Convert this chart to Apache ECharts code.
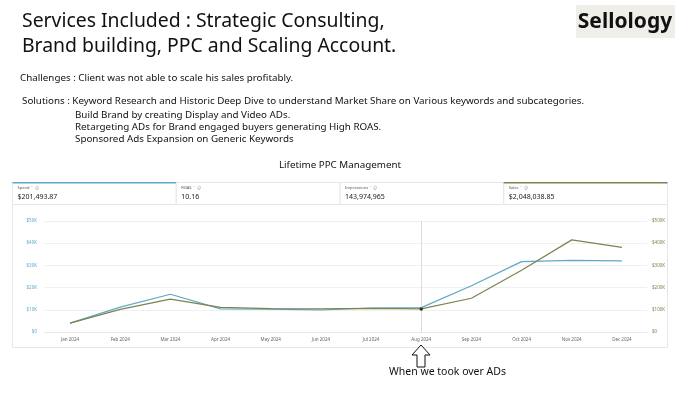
<!DOCTYPE html>
<html>
<head>
<meta charset="utf-8">
<script src="https://cdn.jsdelivr.net/npm/echarts@6/dist/echarts.min.js"></script>
<style>
  html, body { margin: 0; padding: 0; background: #fff; }
  #main { width: 680px; height: 398px; }
</style>
</head>
<body>
<div id="main"></div>
<script>
// months on the x axis
var months = ['Jan 2024', 'Feb 2024', 'Mar 2024', 'Apr 2024', 'May 2024', 'Jun 2024',
              'Jul 2024', 'Aug 2024', 'Sep 2024', 'Oct 2024', 'Nov 2024', 'Dec 2024'];
// spend per month ($, left axis)
var spend = [4000, 11200, 17000, 10400, 10300, 9900, 10800, 11000, 20800, 31700, 32300, 32000];
// sales per month ($, right axis)
var sales = [40000, 102000, 148000, 111000, 105000, 104000, 106000, 104000, 152000, 278000, 415000, 381000];
// summary cards above the chart
var cardNames = ['Spend', 'ROAS', 'Impressions', 'Sales'];
var cardValues = ['$201,493.87', '10.16', '143,974,965', '$2,048,038.85'];
var takeoverMonth = 'Aug 2024';

var blue = '#5fa8c6';
var olive = '#7b8350';
var font = 'Noto Sans';

window.addEventListener('load', function () {
    var chart = echarts.init(document.getElementById('main'));

    var graphics = [];
    // header text
    graphics.push({
        type: 'text', left: 22, top: 9,
        style: { text: 'Services Included : Strategic Consulting,\nBrand building, PPC and Scaling Account.',
                 font: '19.4px ' + font, fill: '#111', lineHeight: 25 }
    });
    graphics.push({
        type: 'text', left: 20, top: 73,
        style: { text: 'Challenges : Client was not able to scale his sales profitably.', font: '9.8px ' + font, fill: '#111' }
    });
    graphics.push({
        type: 'text', left: 22, top: 96,
        style: { text: 'Solutions : Keyword Research and Historic Deep Dive to understand Market Share on Various keywords and subcategories.',
                 font: '9.8px ' + font, fill: '#111' }
    });
    graphics.push({
        type: 'text', left: 75, top: 109,
        style: { text: 'Build Brand by creating Display and Video ADs.\nRetargeting ADs for Brand engaged buyers generating High ROAS.\nSponsored Ads Expansion on Generic Keywords',
                 font: '9.8px ' + font, fill: '#111', lineHeight: 12 }
    });
    // logo
    graphics.push({
        type: 'rect', shape: { x: 576, y: 5, width: 99, height: 33 },
        style: { fill: '#f0eee8' }
    });
    graphics.push({
        type: 'text', x: 625, y: 22,
        style: { text: 'Sellology', font: 'bold 21px ' + font, fill: '#111', align: 'center', verticalAlign: 'middle' }
    });
    // chart panel border
    graphics.push({
        type: 'rect', shape: { x: 12.5, y: 182.5, width: 655, height: 165 },
        style: { fill: 'none', stroke: '#e6e6e6', lineWidth: 1 }
    });
    // cards
    var cardW = 655 / 4;
    for (var i = 0; i < cardNames.length; i++) {
        var x0 = 12.5 + i * cardW;
        graphics.push({
            type: 'rect', shape: { x: x0, y: 182.5, width: cardW, height: 22 },
            style: { fill: '#fff', stroke: '#e6e6e6', lineWidth: 1 }
        });
        if (i === 0 || i === 3) {
            graphics.push({
                type: 'rect', shape: { x: x0, y: 182, width: cardW, height: 1.5 },
                style: { fill: i === 0 ? blue : olive }
            });
        }
        graphics.push({
            type: 'text', left: x0 + 5, top: 186,
            style: { text: cardNames[i] + '  \u02c5  \u24d8', font: '4px ' + font, fill: '#555' }
        });
        graphics.push({
            type: 'text', left: x0 + 5, top: 193,
            style: { text: cardValues[i], font: '7px ' + font, fill: '#222' }
        });
    }
    // arrow and note
    graphics.push({
        type: 'polygon',
        shape: { points: [[421, 345], [430, 355], [425, 355], [425, 367], [417, 367], [417, 355], [412, 355]] },
        style: { fill: '#fff', stroke: '#111', lineWidth: 1 }
    });
    graphics.push({
        type: 'text', left: 389, top: 367,
        style: { text: 'When we took over ADs', font: '10.5px ' + font, fill: '#111' }
    });

    var option = {
        backgroundColor: '#fff',
        animation: false,
        title: {
            text: 'Lifetime PPC Management',
            left: 'center', top: 155,
            textStyle: { fontFamily: font, fontSize: 9.8, fontWeight: 'normal', color: '#111' }
        },
        grid: { left: 45, right: 33, top: 221, bottom: 66 },
        xAxis: {
            type: 'category',
            data: months,
            axisLine: { lineStyle: { color: '#e8e8e8' } },
            axisTick: { show: false },
            axisLabel: { fontSize: 4.5, color: '#666', fontFamily: font, margin: 5 }
        },
        yAxis: [{
            type: 'value', min: 0, max: 50000, interval: 10000,
            axisLabel: { fontSize: 4.5, color: blue, fontFamily: font, margin: 8,
                formatter: function (v) { return v === 0 ? '$0' : '$' + v / 1000 + 'K'; } },
            splitLine: { lineStyle: { color: '#f0f0f0' } }
        }, {
            type: 'value', min: 0, max: 500000, interval: 100000,
            axisLabel: { fontSize: 4.5, color: olive, fontFamily: font, margin: 5,
                formatter: function (v) { return v === 0 ? '$0' : '$' + v / 1000 + 'K'; } },
            splitLine: { show: false }
        }],
        series: [{
            name: 'Spend', type: 'line', data: spend, yAxisIndex: 0,
            symbol: 'none', lineStyle: { color: blue, width: 1.2 }, itemStyle: { color: blue },
            markLine: {
                symbol: 'none', silent: true, label: { show: false },
                lineStyle: { color: '#dcdcdc', type: 'solid', width: 1 },
                data: [{ xAxis: takeoverMonth }]
            }
        }, {
            name: 'Sales', type: 'line', data: sales, yAxisIndex: 1,
            symbol: 'none', lineStyle: { color: olive, width: 1.2 }, itemStyle: { color: olive },
            markPoint: {
                symbol: 'circle', symbolSize: 3.5, label: { show: false },
                itemStyle: { color: '#2e3a1e' },
                data: [{ coord: [takeoverMonth, sales[months.indexOf(takeoverMonth)]] }]
            }
        }],
        graphic: graphics
    };
    chart.setOption(option);
});
</script>
</body>
</html>
